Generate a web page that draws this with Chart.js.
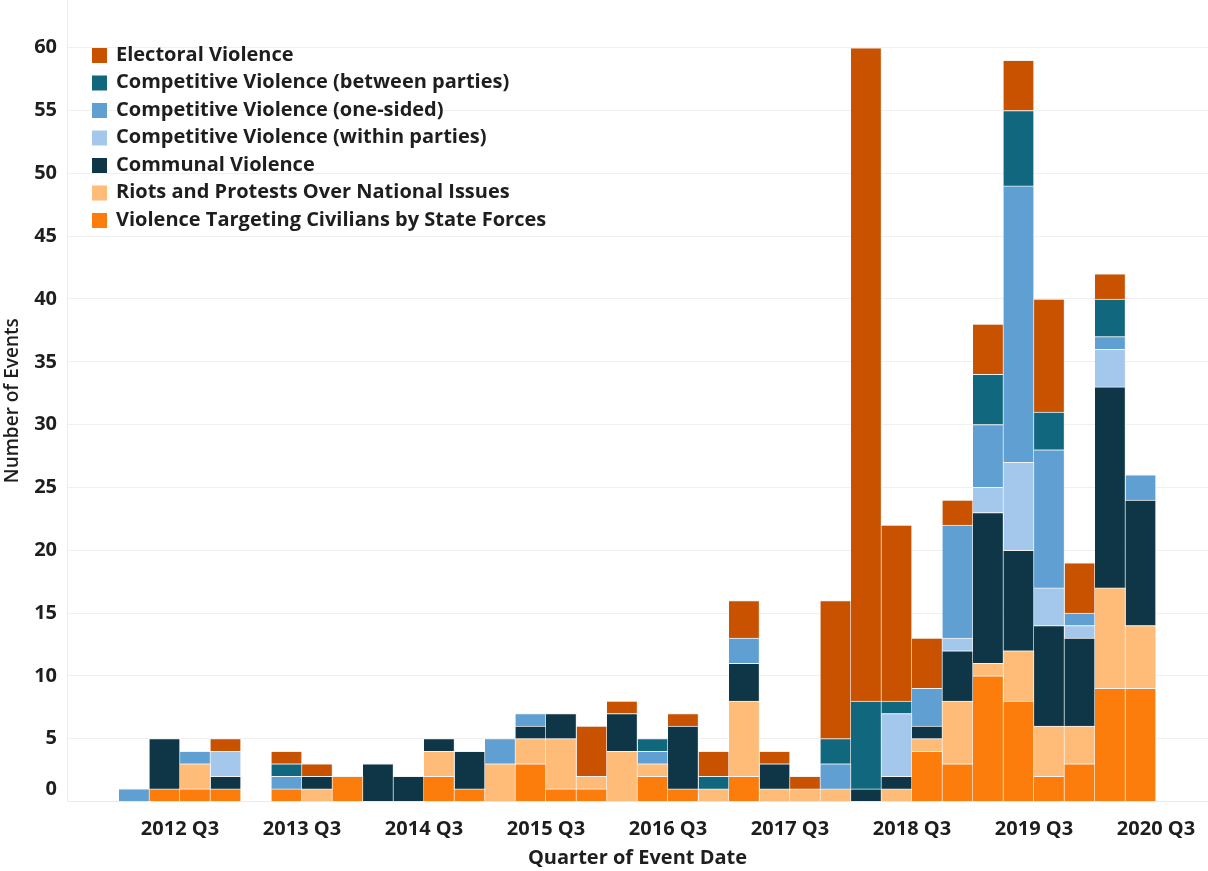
<!DOCTYPE html>
<html>
<head>
<meta charset="utf-8">
<script src="https://cdn.jsdelivr.net/npm/chart.js@4"></script>
<style>
  body { margin: 0; background: #fff; }
  canvas { display: block; }
</style>
</head>
<body>
<canvas id="chart" width="1208" height="871"></canvas>
<script>
// quarters 2012 Q1 .. 2020 Q2, one bar each
const quarters = [
    '2012 Q1', '2012 Q2', '2012 Q3', '2012 Q4',
    '2013 Q1', '2013 Q2', '2013 Q3', '2013 Q4',
    '2014 Q1', '2014 Q2', '2014 Q3', '2014 Q4',
    '2015 Q1', '2015 Q2', '2015 Q3', '2015 Q4',
    '2016 Q1', '2016 Q2', '2016 Q3', '2016 Q4',
    '2017 Q1', '2017 Q2', '2017 Q3', '2017 Q4',
    '2018 Q1', '2018 Q2', '2018 Q3', '2018 Q4',
    '2019 Q1', '2019 Q2', '2019 Q3', '2019 Q4',
    '2020 Q1', '2020 Q2'
];
const tickLabels = ['2012 Q3', '2013 Q3', '2014 Q3', '2015 Q3', '2016 Q3', '2017 Q3', '2018 Q3', '2019 Q3', '2020 Q3'];
const yTicks = [0, 5, 10, 15, 20, 25, 30, 35, 40, 45, 50, 55, 60];

// series, bottom of the stack first
const civilians = [0,1,1,1,0,1,0,2,0,0, 2,1,0,3,1,1,0,2,1,0, 2,0,0,0,0,0,4,3,10,8, 2,3,9,9];
const riots     = [0,0,2,0,0,0,1,0,0,0, 2,0,3,2,4,1,4,1,0,1, 6,1,1,1,0,1,1,5,1,4, 4,3,8,5];
const communal  = [0,4,0,1,0,0,1,0,3,2, 1,3,0,1,2,0,3,0,5,0, 3,2,0,0,1,1,1,4,12,8, 8,7,16,10];
const within    = [0,0,0,2,0,0,0,0,0,0, 0,0,0,0,0,0,0,0,0,0, 0,0,0,0,0,5,0,1,2,7, 3,1,3,0];
const oneSided  = [1,0,1,0,0,1,0,0,0,0, 0,0,2,1,0,0,0,1,0,0, 2,0,0,2,0,0,3,9,5,22, 11,1,1,2];
const between   = [0,0,0,0,0,1,0,0,0,0, 0,0,0,0,0,0,0,1,0,1, 0,0,0,2,7,1,0,0,4,6, 3,0,3,0];
const electoral = [0,0,0,1,0,1,1,0,0,0, 0,0,0,0,0,4,1,0,1,2, 3,1,1,11,52,14,4,2,4,4, 9,4,2,0];

const series = [
    { label: 'Violence Targeting Civilians by State Forces', data: civilians, color: '#fc7d0b' },
    { label: 'Riots and Protests Over National Issues', data: riots, color: '#ffbc79' },
    { label: 'Communal Violence', data: communal, color: '#0e3646' },
    { label: 'Competitive Violence (within parties)', data: within, color: '#a3c8ec' },
    { label: 'Competitive Violence (one-sided)', data: oneSided, color: '#5f9fd1' },
    { label: 'Competitive Violence (between parties)', data: between, color: '#11677e' },
    { label: 'Electoral Violence', data: electoral, color: '#c85200' }
];

const FONT = "'Open Sans', sans-serif";
const TEXT = '#1e1e1e';

// position of a quarter label on the x scale (start of that quarter)
function quarterPos(label) {
    const [y, q] = label.split(' Q');
    return (parseInt(y) - 2012) * 4 + (parseInt(q) - 1);
}

// legend drawn inside the plot, top-left
const insideLegend = {
    id: 'insideLegend',
    afterDraw(chart) {
        const ctx = chart.ctx;
        const items = chart.data.datasets.slice().reverse();
        ctx.save();
        ctx.font = `bold 20px ${FONT}`;
        ctx.textBaseline = 'middle';
        items.forEach((ds, i) => {
            const y = 55 + i * 27.5;
            ctx.fillStyle = ds.backgroundColor;
            ctx.fillRect(92, y - 7, 15, 15);
            ctx.fillStyle = TEXT;
            ctx.fillText(ds.label, 116, y);
        });
        ctx.restore();
    }
};

// y tick labels, the 0 label sits a little above the baseline like the original
const yLabels = {
    id: 'yLabels',
    afterDraw(chart) {
        const scale = chart.scales.y;
        const ctx = chart.ctx;
        ctx.save();
        ctx.font = `bold 20px ${FONT}`;
        ctx.fillStyle = TEXT;
        ctx.textAlign = 'right';
        ctx.textBaseline = 'middle';
        yTicks.forEach(v => {
            let y = scale.getPixelForValue(v);
            if (v === 0) y -= 12;
            ctx.fillText(String(v), scale.right - 10, y);
        });
        ctx.restore();
    }
};

const ctx = document.getElementById('chart').getContext('2d');
new Chart(ctx, {
    type: 'bar',
    data: {
        datasets: series.map(s => ({
            label: s.label,
            data: s.data.map((v, i) => ({ x: quarterPos(quarters[i]) + 0.5, y: v || null })),
            backgroundColor: s.color,
            borderColor: '#f3f3f3',
            borderWidth: { top: 1, right: 1, left: 0, bottom: 0 },
            borderSkipped: 'start',
            barPercentage: 1,
            categoryPercentage: 1
        }))
    },
    options: {
        responsive: false,
        animation: false,
        layout: { padding: 0 },
        plugins: {
            legend: { display: false },
            tooltip: { enabled: false }
        },
        scales: {
            x: {
                type: 'linear',
                stacked: true,
                offset: false,
                min: -1.705,
                max: 35.705,
                grid: { display: false },
                border: { display: true, color: '#ebebeb' },
                afterBuildTicks: scale => {
                    scale.ticks = tickLabels.map(l => ({ value: quarterPos(l) }));
                },
                ticks: {
                    autoSkip: false,
                    maxRotation: 0,
                    padding: 8,
                    color: TEXT,
                    font: { family: FONT, size: 20, weight: 'bold' },
                    callback: v => tickLabels.find(l => quarterPos(l) === v) || ''
                },
                title: {
                    display: true,
                    text: 'Quarter of Event Date',
                    color: TEXT,
                    font: { family: FONT, size: 20, weight: 'bold' },
                    padding: { top: 0, bottom: 1 }
                },
                afterFit: scale => {
                    scale.height = 69.5;
                    scale.paddingLeft = 0;
                    scale.paddingRight = 0;
                }
            },
            y: {
                stacked: true,
                min: 0,
                max: 63.8,
                afterBuildTicks: scale => {
                    scale.ticks = yTicks.map(v => ({ value: v }));
                },
                grid: { color: '#f0f0f0', drawTicks: false },
                border: { display: true, color: '#ebebeb' },
                ticks: { display: false },
                title: {
                    display: true,
                    text: 'Number of Events',
                    color: TEXT,
                    font: { family: FONT, size: 19, weight: '600' },
                    padding: { top: 1, bottom: 0 }
                },
                afterFit: scale => {
                    scale.width = 67;
                    scale.paddingTop = 0;
                    scale.paddingBottom = 0;
                }
            }
        }
    },
    plugins: [insideLegend, yLabels]
});
</script>
</body>
</html>
